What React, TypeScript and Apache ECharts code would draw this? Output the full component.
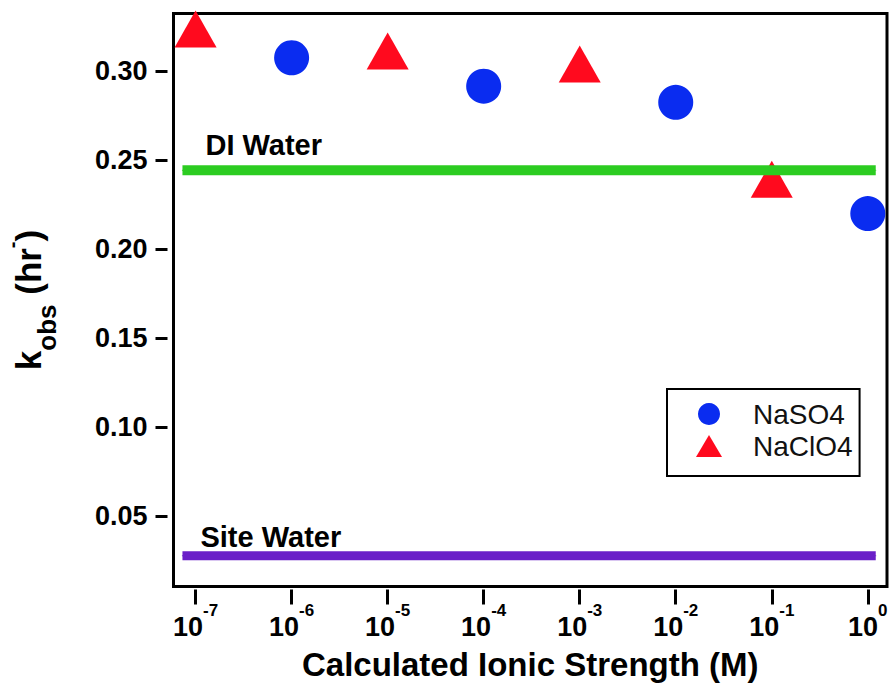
import React, { useEffect, useRef } from 'react';
import * as echarts from 'echarts';

// ---- data ----
const xTickValues = [1e-7, 1e-6, 1e-5, 1e-4, 1e-3, 1e-2, 1e-1, 1];
const yTickValues = [0.05, 0.1, 0.15, 0.2, 0.25, 0.3];
const naso4X = [1e-6, 1e-4, 1e-2, 1];
const naso4Y = [0.3077, 0.2917, 0.2826, 0.22];
const naclo4X = [1e-7, 1e-5, 1e-3, 1e-1];
const naclo4Y = [0.3239, 0.3115, 0.3042, 0.2393];
const refLineX = [7.3e-8, 1.21];
const diWaterK = 0.2444;
const siteWaterK = 0.0275;
const xMin = Math.pow(10, -7.23);
const xMax = Math.pow(10, 0.2);
const yMin = 0.0102;
const yMax = 0.3326;

const FONT = '"Liberation Sans", Arial, Helvetica, sans-serif';

export default function App() {
  const ref = useRef<HTMLDivElement>(null);
  useEffect(() => {
    if (!ref.current) return;
    const chart = echarts.init(ref.current, undefined, { renderer: 'svg' });
    const refLine = (name: string, k: number, color: string, width: number, labelText: string, offX: number, dist: number) => ({
      name,
      type: 'line',
      z: 5,
      symbol: 'circle',
      symbolSize: 1,
      itemStyle: { color },
      lineStyle: { color, width, cap: 'butt' },
      silent: true,
      data: [
        {
          value: [refLineX[0], k],
          label: {
            show: true,
            formatter: labelText,
            position: 'top',
            align: 'left',
            distance: dist,
            offset: [offX, 0],
            color: '#000',
            fontFamily: FONT,
            fontWeight: 'bold',
            fontSize: 29,
          },
        },
        { value: [refLineX[1], k] },
      ],
    });
    chart.setOption({
      animation: false,
      grid: {
        left: 173.5,
        right: 5,
        top: 13.5,
        bottom: 98.5,
        containLabel: false,
        outerBoundsMode: 'none',
        show: true,
        borderColor: '#000',
        borderWidth: 3,
        backgroundColor: 'transparent',
      },
      legend: {
        orient: 'vertical',
        left: 667,
        top: 389,
        data: ['NaSO4', 'NaClO4'],
        borderColor: '#000',
        borderWidth: 2,
        padding: [11, 7, 16, 29],
        itemWidth: 26,
        itemHeight: 22,
        itemGap: 4,
        itemStyle: { opacity: 1 },
        textStyle: {
          fontFamily: FONT,
          fontSize: 28,
          lineHeight: 28,
          color: '#111',
          padding: [0, 0, 0, 26],
        },
      },
      xAxis: {
        type: 'log',
        logBase: 10,
        min: xMin,
        max: xMax,
        offset: 3,
        axisLine: { show: false },
        splitLine: { show: false },
        axisTick: {
          show: true,
          length: 15,
          lineStyle: { color: '#000', width: 3 },
          customValues: xTickValues,
        },
        axisLabel: {
          customValues: xTickValues,
          margin: 12,
          formatter: (v: number) => `{b|10}{s|${Math.round(Math.log10(v))}}`,
          rich: {
            b: { fontFamily: FONT, fontWeight: 'bold', fontSize: 27, lineHeight: 27, verticalAlign: 'bottom', color: '#000' },
            s: { fontFamily: FONT, fontWeight: 'bold', fontSize: 17, lineHeight: 39, padding: [0, 0, 22, 0], verticalAlign: 'bottom', color: '#000' },
          },
        },
        name: 'Calculated Ionic Strength (M)',
        nameLocation: 'middle',
        nameGap: 58,
        nameTextStyle: { fontFamily: FONT, fontWeight: 'bold', fontSize: 33, color: '#000' },
      },
      yAxis: {
        type: 'value',
        min: yMin,
        max: yMax,
        offset: 6,
        axisLine: { show: false },
        splitLine: { show: false },
        axisTick: {
          show: true,
          length: 12,
          lineStyle: { color: '#000', width: 3 },
          customValues: yTickValues,
        },
        axisLabel: {
          customValues: yTickValues,
          margin: 20,
          formatter: (v: number) => v.toFixed(2),
          fontFamily: FONT,
          fontWeight: 'bold',
          fontSize: 27,
          color: '#000',
        },
        name: '{k|k}{sub|obs}{n| (hr}{sup|-}{n|)}',
        nameLocation: 'middle',
        nameRotate: 90,
        nameGap: 108,
        nameTextStyle: {
          fontFamily: FONT,
          fontWeight: 'bold',
          color: '#000',
          rich: {
            k: { fontFamily: FONT, fontWeight: 'bold', fontSize: 35, lineHeight: 44, padding: [9, 0, 0, 0], verticalAlign: 'top', color: '#000' },
            n: { fontFamily: FONT, fontWeight: 'bold', fontSize: 35, lineHeight: 44, padding: [9, 0, 0, 0], verticalAlign: 'top', color: '#000' },
            sub: { fontFamily: FONT, fontWeight: 'bold', fontSize: 26, lineHeight: 58, padding: [32, 0, 0, 0], verticalAlign: 'bottom', color: '#000' },
            sup: { fontFamily: FONT, fontWeight: 'bold', fontSize: 20, lineHeight: 20, verticalAlign: 'top', color: '#000' },
          },
        },
      },
      series: [
        {
          name: 'NaSO4',
          type: 'scatter',
          symbol: 'circle',
          symbolSize: 35,
          itemStyle: { color: '#0a2cf0', opacity: 1 },
          data: naso4X.map((x, i) => [x, naso4Y[i]]),
        },
        {
          name: 'NaClO4',
          type: 'scatter',
          symbol: 'triangle',
          symbolSize: [42, 37],
          itemStyle: { color: '#ff0a1e', opacity: 1 },
          data: naclo4X.map((x, i) => [x, naclo4Y[i]]),
        },
        refLine('DI Water', diWaterK, '#2ccc21', 10, 'DI Water', 23, 10),
        refLine('Site Water', siteWaterK, '#6a1fc8', 9, 'Site Water', 18, 4),
      ],
    });
    return () => chart.dispose();
  }, []);
  return (
    <div
      ref={ref}
      style={{ position: 'fixed', left: 0, top: 0, width: 892, height: 685, background: '#fff' }}
    />
  );
}
